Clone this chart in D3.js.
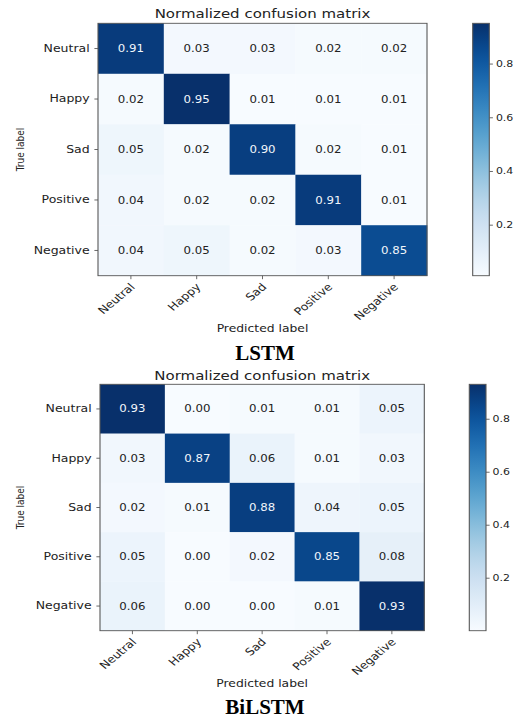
<!DOCTYPE html>
<html>
<head>
<meta charset="utf-8">
<script src="https://cdn.jsdelivr.net/npm/d3@7"></script>
<style>
  body { margin: 0; background: #fff; }
  svg { display: block; }
  text { font-family: "DejaVu Sans", sans-serif; }
  text.caption { font-family: "Liberation Serif", "Times New Roman", serif; font-weight: bold; }
</style>
</head>
<body>
<svg id="chart" width="525" height="719"></svg>
<script>
// Emotion classes (rows = true label, columns = predicted label)
const classes = ["Neutral", "Happy", "Sad", "Positive", "Negative"];

// Normalized confusion matrix of the LSTM model
const lstmMatrix = [
  [0.91, 0.03, 0.03, 0.02, 0.02],
  [0.02, 0.95, 0.01, 0.01, 0.01],
  [0.05, 0.02, 0.90, 0.02, 0.01],
  [0.04, 0.02, 0.02, 0.91, 0.01],
  [0.04, 0.05, 0.02, 0.03, 0.85]
];

// Normalized confusion matrix of the BiLSTM model
const bilstmMatrix = [
  [0.93, 0.00, 0.01, 0.01, 0.05],
  [0.03, 0.87, 0.06, 0.01, 0.03],
  [0.02, 0.01, 0.88, 0.04, 0.05],
  [0.05, 0.00, 0.02, 0.85, 0.08],
  [0.06, 0.00, 0.00, 0.01, 0.93]
];

const colorbarTicks = [0.2, 0.4, 0.6, 0.8];
const modelNames = ["LSTM", "BiLSTM"];
const chartTitle = "Normalized confusion matrix";
const xAxisTitle = "Predicted label";
const yAxisTitle = "True label";

// The figure panels are drawn with a horizontal stretch
const SX = 1.2;

const panels = [
  { name: modelNames[0], values: lstmMatrix,
    left: 98, right: 427, top: 23.3, bottom: 275.7,
    cbLeft: 472.7, cbRight: 489.3, titleY: 18.5, captionY: 359.7 },
  { name: modelNames[1], values: bilstmMatrix,
    left: 100, right: 424.3, top: 384.3, bottom: 630.7,
    cbLeft: 469.3, cbRight: 486, titleY: 380, captionY: 713.7 }
];

const svg = d3.select("#chart");
const defs = svg.append("defs");
const textColor = "#222";
const frameColor = "#555";

panels.forEach((p, pi) => {
  const g = svg.append("g").attr("transform", `scale(${SX},1)`);
  const x = d3.scaleBand().domain(classes).range([p.left / SX, p.right / SX]);
  const y = d3.scaleBand().domain(classes).range([p.top, p.bottom]);
  const flat = p.values.flat();
  const vmin = d3.min(flat), vmax = d3.max(flat);
  const color = d3.scaleSequential(d3.interpolateBlues).domain([vmin, vmax]);

  const cells = [];
  p.values.forEach((row, i) => row.forEach((v, j) => cells.push({ r: classes[i], c: classes[j], v })));

  // heatmap cells
  g.append("g").selectAll("rect").data(cells).join("rect")
    .attr("x", d => x(d.c))
    .attr("y", d => y(d.r))
    .attr("width", x.bandwidth() + 0.3)
    .attr("height", y.bandwidth() + 0.3)
    .attr("fill", d => color(d.v));

  // value annotations
  g.append("g").selectAll("text").data(cells).join("text")
    .attr("x", d => x(d.c) + x.bandwidth() / 2)
    .attr("y", d => y(d.r) + y.bandwidth() / 2)
    .attr("dy", "0.36em")
    .attr("text-anchor", "middle")
    .attr("font-size", 9.8)
    .attr("fill", d => d.v > vmax / 2 ? "#f2f6fb" : textColor)
    .text(d => d.v.toFixed(2));

  // frame
  g.append("rect")
    .attr("x", p.left / SX).attr("y", p.top)
    .attr("width", (p.right - p.left) / SX).attr("height", p.bottom - p.top)
    .attr("fill", "none").attr("stroke", frameColor).attr("stroke-width", 0.9);

  // y axis
  const yAxis = g.append("g").attr("transform", `translate(${p.left / SX},0)`)
    .call(d3.axisLeft(y).tickSize(3).tickPadding(4));
  yAxis.select(".domain").remove();
  yAxis.selectAll(".tick line").attr("stroke", frameColor).attr("stroke-width", 0.8);
  yAxis.selectAll(".tick text").attr("font-size", 10.4).attr("fill", textColor)
    .attr("font-family", "DejaVu Sans");

  // x axis
  const xAxis = g.append("g").attr("transform", `translate(0,${p.bottom})`)
    .call(d3.axisBottom(x).tickSize(3.5));
  xAxis.select(".domain").remove();
  xAxis.selectAll(".tick line").attr("stroke", frameColor).attr("stroke-width", 0.8);
  xAxis.selectAll(".tick text")
    .attr("font-size", 10.4).attr("fill", textColor).attr("font-family", "DejaVu Sans")
    .attr("text-anchor", "end")
    .attr("dy", null)
    .attr("y", 0)
    .attr("transform", "translate(4,12) rotate(-45)");

  // titles
  g.append("text")
    .attr("x", (p.left + p.right) / 2 / SX).attr("y", p.titleY)
    .attr("text-anchor", "middle").attr("font-size", 12.5).attr("fill", textColor)
    .text(chartTitle);
  g.append("text")
    .attr("x", (p.left + p.right) / 2 / SX).attr("y", p.bottom + 56.5)
    .attr("text-anchor", "middle").attr("font-size", 10.3).attr("fill", textColor)
    .text(xAxisTitle);
  g.append("text")
    .attr("transform", `translate(${24 / SX},${(p.top + p.bottom) / 2}) rotate(-90)`)
    .attr("text-anchor", "middle").attr("font-size", 9).attr("fill", textColor)
    .text(yAxisTitle);

  // colorbar
  const gradId = "cbar" + pi;
  const grad = defs.append("linearGradient").attr("id", gradId)
    .attr("x1", 0).attr("y1", 1).attr("x2", 0).attr("y2", 0);
  d3.range(0, 1.0001, 0.05).forEach(t => {
    grad.append("stop").attr("offset", t).attr("stop-color", color(vmin + t * (vmax - vmin)));
  });
  const cy = d3.scaleLinear().domain([vmin, vmax]).range([p.bottom, p.top]);
  g.append("rect")
    .attr("x", p.cbLeft / SX).attr("y", p.top)
    .attr("width", (p.cbRight - p.cbLeft) / SX).attr("height", p.bottom - p.top)
    .attr("fill", `url(#${gradId})`)
    .attr("stroke", frameColor).attr("stroke-width", 0.9);
  const cAxis = g.append("g").attr("transform", `translate(${p.cbRight / SX},0)`)
    .call(d3.axisRight(cy).tickValues(colorbarTicks).tickFormat(d3.format(".1f")).tickSize(3).tickPadding(2.5));
  cAxis.select(".domain").remove();
  cAxis.selectAll(".tick line").attr("stroke", frameColor).attr("stroke-width", 0.8);
  cAxis.selectAll(".tick text").attr("font-size", 9.1).attr("fill", textColor)
    .attr("font-family", "DejaVu Sans");

  // model caption
  svg.append("text")
    .attr("class", "caption")
    .attr("x", 265).attr("y", p.captionY)
    .attr("text-anchor", "middle")
    .attr("font-size", 21).attr("fill", "#000")
    .text(p.name);
});
</script>
</body>
</html>
